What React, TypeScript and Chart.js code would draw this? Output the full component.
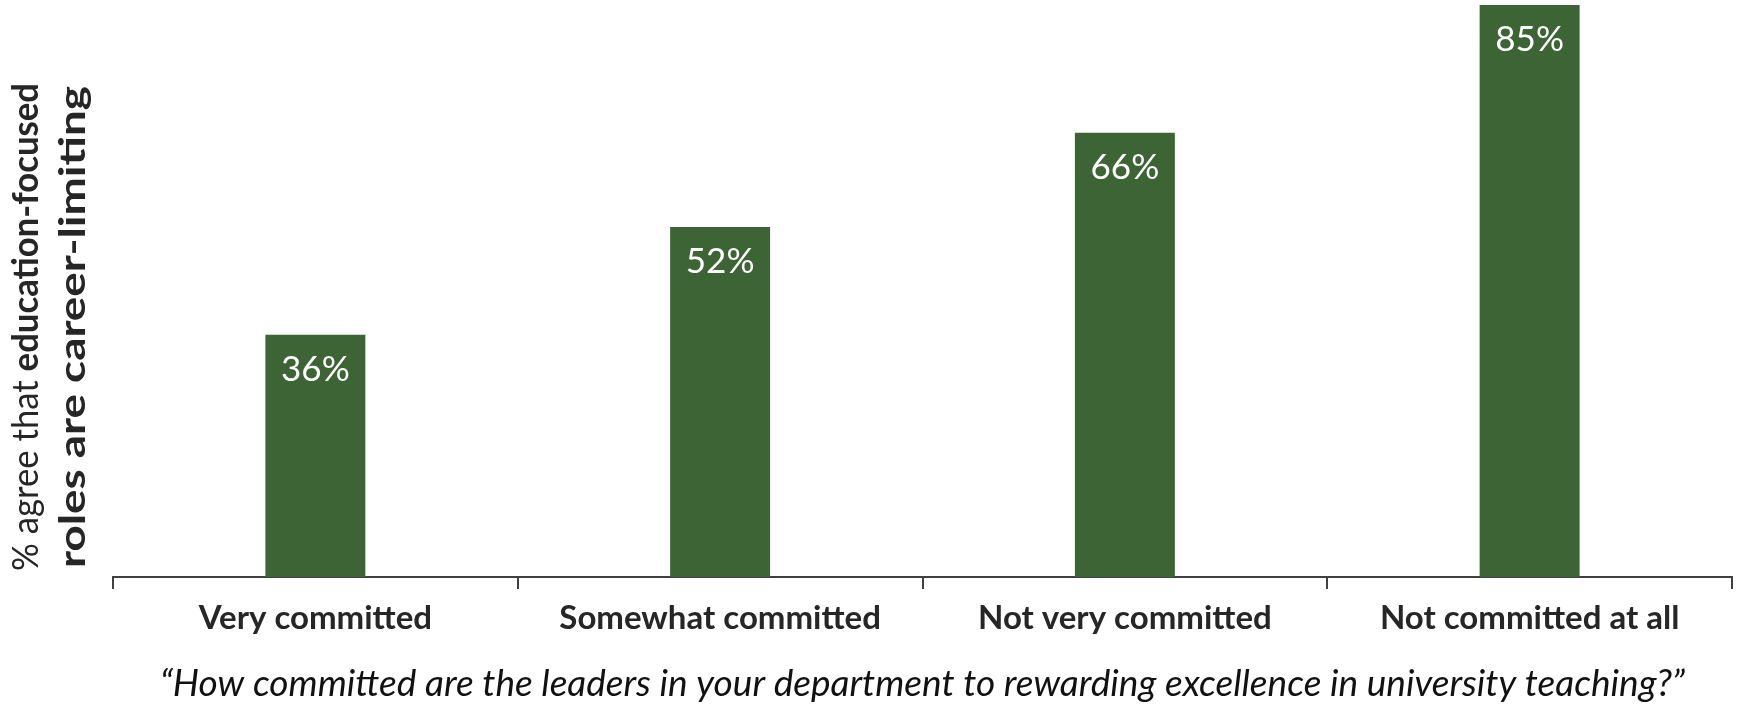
import React, { useEffect, useRef } from 'react';
import { Chart, registerables } from 'chart.js';

Chart.register(...registerables);

const categories = ['Very committed', 'Somewhat committed', 'Not very committed', 'Not committed at all'];
const agreePct = [36, 52, 66, 85];
const yTitleLine1Normal = '% agree that ';
const yTitleLine1Bold = 'education-focused';
const yTitleLine2Bold = 'roles are career-limiting';
const xTitle = '\u201CHow committed are the leaders in your department to rewarding excellence in university teaching?\u201D';

const FONT = 'Lato';
const BAR_COLOR = '#3c6435';
const TEXT_COLOR = '#262626';

const valueLabelPlugin = {
  id: 'valueLabels',
  afterDatasetsDraw(chart: any) {
    const ctx = chart.ctx;
    const meta = chart.getDatasetMeta(0);
    ctx.save();
    ctx.font = `normal 35px ${FONT}`;
    ctx.fillStyle = '#ffffff';
    ctx.textAlign = 'center';
    ctx.textBaseline = 'alphabetic';
    meta.data.forEach((bar: any, i: number) => {
      ctx.fillText(`${agreePct[i]}%`, bar.x, bar.y + 46);
    });
    ctx.restore();
  },
};

const yTitlePlugin = {
  id: 'yTitleMixed',
  afterDraw(chart: any) {
    const ctx = chart.ctx;
    const cy = 327;
    const size1 = 36;
    const size2 = 36;
    ctx.save();
    ctx.fillStyle = TEXT_COLOR;
    ctx.textBaseline = 'alphabetic';
    ctx.textAlign = 'left';
    // line 1
    ctx.save();
    ctx.translate(38, cy);
    ctx.rotate(-Math.PI / 2);
    ctx.font = `normal ${size1}px ${FONT}`;
    const w1 = ctx.measureText(yTitleLine1Normal).width;
    ctx.font = `bold ${size1}px ${FONT}`;
    const w2 = ctx.measureText(yTitleLine1Bold).width;
    const natural1 = w1 + w2;
    const target = 488;
    ctx.scale(target / natural1, 1);
    const x0 = -natural1 / 2;
    ctx.font = `normal ${size1}px ${FONT}`;
    ctx.fillText(yTitleLine1Normal, x0, 0);
    ctx.font = `bold ${size1}px ${FONT}`;
    ctx.fillText(yTitleLine1Bold, x0 + w1, 0);
    ctx.restore();
    // line 2 (stretched along its length, as in the original)
    ctx.save();
    ctx.translate(85, cy);
    ctx.rotate(-Math.PI / 2);
    ctx.font = `bold ${size2}px ${FONT}`;
    const natural2 = ctx.measureText(yTitleLine2Bold).width;
    ctx.scale((target - 6) / natural2, 1);
    ctx.textAlign = 'center';
    ctx.fillText(yTitleLine2Bold, 0, 0);
    ctx.restore();
    ctx.restore();
  },
};

export default function App() {
  const canvasRef = useRef<HTMLCanvasElement | null>(null);

  useEffect(() => {
    if (!canvasRef.current) return;
    const chart = new Chart(canvasRef.current, {
      type: 'bar',
      data: {
        labels: categories,
        datasets: [
          {
            data: agreePct,
            backgroundColor: BAR_COLOR,
            borderWidth: 0,
            categoryPercentage: 1,
            barPercentage: 0.247,
          },
        ],
      },
      options: {
        animation: false,
        responsive: true,
        maintainAspectRatio: false,
        layout: { padding: { left: 113, right: 6, top: 5, bottom: 0 } },
        plugins: {
          legend: { display: false },
          tooltip: { enabled: false },
        },
        scales: {
          y: { display: false, min: 0, max: 85 },
          x: {
            grid: {
              drawOnChartArea: false,
              drawTicks: true,
              tickLength: 12,
              offset: true,
              color: '#404040',
              lineWidth: 2,
            },
            border: { display: true, color: '#404040', width: 2 },
            ticks: {
              color: TEXT_COLOR,
              font: { family: FONT, weight: 'bold', size: 33 },
              padding: 10,
              maxRotation: 0,
            },
            title: {
              display: true,
              text: xTitle,
              color: '#111111',
              font: { family: FONT, style: 'italic', size: 37 },
              padding: { top: 13, bottom: 0 },
            },
          },
        },
      },
      plugins: [valueLabelPlugin, yTitlePlugin],
    });
    return () => chart.destroy();
  }, []);

  return (
    <div style={{ position: 'fixed', left: 0, top: 0, width: 1738, height: 706, background: '#ffffff' }}>
      <canvas ref={canvasRef} />
    </div>
  );
}
